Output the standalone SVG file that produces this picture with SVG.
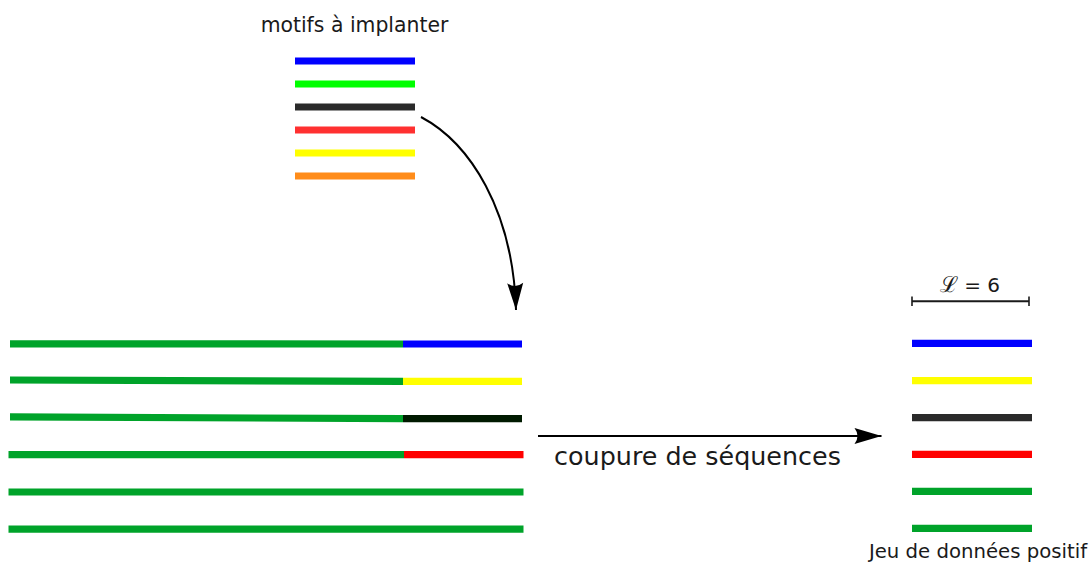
<svg xmlns="http://www.w3.org/2000/svg" width="1090" height="565" viewBox="0 0 1090 565">
<style>
.seg{stroke-width:7.2;fill:none;stroke-linecap:butt}
.g{stroke:#00a32a}
.lbl{font-family:"DejaVu Sans","Liberation Sans",sans-serif;fill:#1a1a1a}
.conn{stroke:#000;stroke-width:2;fill:none}
</style>
<defs>
<marker id="ah" markerUnits="userSpaceOnUse" markerWidth="40" markerHeight="30" viewBox="-30 -15 40 30" refX="0" refY="0" orient="auto" overflow="visible">
<path d="M0,0 L-27,-8 Q-21,0 -27,8 Z" fill="#000"/>
</marker>
</defs>
<rect width="1090" height="565" fill="#fff"/>

<g id="motifs">
<text class="lbl" x="354.5" y="32" font-size="20.4" text-anchor="middle">motifs à implanter</text>
<line class="seg" x1="295" y1="61" x2="415" y2="61" stroke="#0000ff"/>
<line class="seg" x1="295" y1="84" x2="415" y2="84" stroke="#00ff00"/>
<line class="seg" x1="295" y1="107" x2="415" y2="107" stroke="#2a2a2a"/>
<line class="seg" x1="295" y1="130" x2="415" y2="130" stroke="#ff3030"/>
<line class="seg" x1="295" y1="153" x2="415" y2="153" stroke="#ffff00"/>
<line class="seg" x1="295" y1="176" x2="415" y2="176" stroke="#ff8c1a"/>
</g>

<g id="sequences">
<line class="seg g" x1="10" y1="343.8" x2="403" y2="344"/>
<line class="seg" x1="403" y1="344" x2="522" y2="344" stroke="#0000ff"/>
<line class="seg g" x1="10" y1="380" x2="403" y2="381.4"/>
<line class="seg" x1="403" y1="381.4" x2="522" y2="381.4" stroke="#ffff00"/>
<line class="seg g" x1="10" y1="416.8" x2="403" y2="418.7"/>
<line class="seg" x1="403" y1="418.7" x2="522" y2="418.7" stroke="#001a00"/>
<line class="seg g" x1="8.5" y1="454.6" x2="404" y2="454.6"/>
<line class="seg" x1="404" y1="454.6" x2="523.5" y2="454.6" stroke="#ff0000"/>
<line class="seg g" x1="8.5" y1="492" x2="523.5" y2="492"/>
<line class="seg g" x1="8.5" y1="529.2" x2="523.5" y2="529.2"/>
</g>

<g id="dataset">
<text class="lbl" x="970" y="292" font-size="20" text-anchor="middle"><tspan font-family="DejaVu Serif,Liberation Serif,serif" font-size="22">ℒ</tspan> = 6</text>
<line x1="912" y1="301.3" x2="1029" y2="301.3" stroke="#1a1a1a" stroke-width="2"/>
<line x1="912" y1="296.5" x2="912" y2="306" stroke="#1a1a1a" stroke-width="1.6"/>
<line x1="1029" y1="296.5" x2="1029" y2="306" stroke="#1a1a1a" stroke-width="1.6"/>
<line class="seg" x1="912" y1="343.3" x2="1032" y2="343.3" stroke="#0000ff"/>
<line class="seg" x1="912" y1="380.7" x2="1032" y2="380.7" stroke="#ffff00"/>
<line class="seg" x1="912" y1="417.7" x2="1032" y2="417.7" stroke="#2a2a2a"/>
<line class="seg" x1="912" y1="454.3" x2="1032" y2="454.3" stroke="#ff0000"/>
<line class="seg g" x1="912" y1="491.3" x2="1032" y2="491.3"/>
<line class="seg g" x1="912" y1="528.3" x2="1032" y2="528.3"/>
<text class="lbl" x="978" y="558" font-size="19.7" text-anchor="middle">Jeu de données positif</text>
</g>

<g id="connectors">
<path class="conn" d="M421,117 C470,143 513,210 516,310" marker-end="url(#ah)"/>
<path class="conn" d="M538,436 L881.5,436" marker-end="url(#ah)"/>
<text class="lbl" x="697.5" y="465" font-size="25.4" text-anchor="middle">coupure de séquences</text>
</g>
</svg>
